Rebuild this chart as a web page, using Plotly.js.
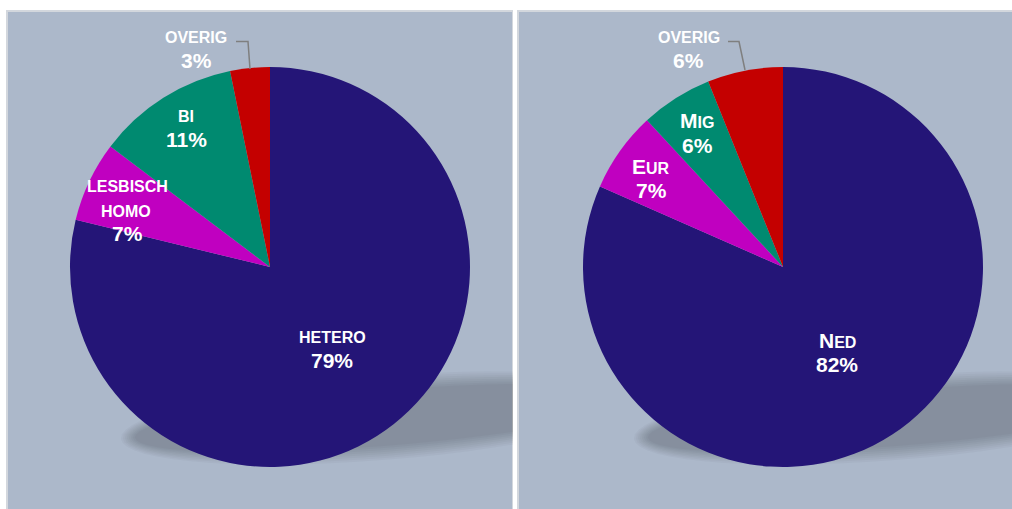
<!DOCTYPE html>
<html>
<head>
<meta charset="utf-8">
<script src="https://cdn.plot.ly/plotly-3.0.1.min.js"></script>
<style>
  html, body { margin: 0; padding: 0; background: #ffffff; }
  #chart { width: 1012px; height: 509px; }
</style>
</head>
<body>
<div id="chart"></div>
<script>
// data
var groupsLeft = ['HETERO', 'LESBISCH HOMO', 'BI', 'OVERIG'];
var sharesLeft = [78.8, 6.5, 11.5, 3.2];
var pctLeft = ['79%', '7%', '11%', '3%'];

var groupsRight = ['NED', 'EUR', 'MIG', 'OVERIG'];
var sharesRight = [81.6, 6.5, 5.8, 6.1];
var pctRight = ['82%', '7%', '6%', '6%'];

var sliceColors = ['#241577', '#c000c0', '#008a70', '#c40000'];

// pixel helpers
var W = 1012, H = 509;
function px(x) { return x / W; }
function py(y) { return 1 - y / H; }

var font = 'Liberation Sans, Arial, sans-serif';

function pieTrace(groups, shares, cx, cy, r) {
    return {
        type: 'pie',
        labels: groups,
        values: shares,
        sort: false,
        direction: 'clockwise',
        rotation: 0,
        textinfo: 'none',
        hoverinfo: 'label+percent',
        showlegend: false,
        marker: { colors: sliceColors, line: { width: 0 } },
        domain: { x: [px(cx - r), px(cx + r)], y: [py(cy + r), py(cy - r)] }
    };
}

var data = [
    pieTrace(groupsLeft, sharesLeft, 270, 267, 200),
    pieTrace(groupsRight, sharesRight, 783, 267, 200)
];

// background panels and soft shadows
var shapes = [];
function panel(x0, x1) {
    shapes.push({
        type: 'rect', xref: 'paper', yref: 'paper', layer: 'below',
        x0: px(x0), x1: px(x1), y0: py(520), y1: py(11),
        fillcolor: '#acb8ca', line: { color: '#d3d7dd', width: 2 }
    });
}
// tilted ellipse, drawn as a few stacked layers to fake a blur
function shadow(cx, cy, a, b, deg) {
    var t = deg * Math.PI / 180;
    for (var i = 0; i < 8; i++) {
        var g = 8 - i * 2;
        var p = '';
        for (var k = 0; k <= 60; k++) {
            var u = k / 60 * 2 * Math.PI;
            var ex = (a + g) * Math.cos(u), ey = (b + g) * Math.sin(u);
            var x = cx + ex * Math.cos(t) - ey * Math.sin(t);
            var y = cy + ex * Math.sin(t) + ey * Math.cos(t);
            p += (k === 0 ? 'M' : ' L') + px(x).toFixed(5) + ',' + py(y).toFixed(5);
        }
        shapes.push({
            type: 'path', xref: 'paper', yref: 'paper', layer: 'below',
            path: p + ' Z',
            fillcolor: 'rgba(0,0,0,0.027)', line: { width: 0 }
        });
    }
}
panel(7, 513);
shadow(383, 418, 255, 34, -4.5);
// white gap and right panel cover the left shadow overflow
shapes.push({
    type: 'rect', xref: 'paper', yref: 'paper', layer: 'below',
    x0: px(513), x1: px(518), y0: 0, y1: 1,
    fillcolor: '#ffffff', line: { width: 0 }
});
panel(518, 1030);
shadow(896, 418, 255, 34, -4.5);

// leader lines for the small red slices
shapes.push({
    type: 'path', xref: 'paper', yref: 'paper',
    path: 'M' + px(236) + ',' + py(41.5) + ' L' + px(248) + ',' + py(41.5) + ' L' + px(250) + ',' + py(69),
    line: { color: '#7f7f7f', width: 1.5 }
});
shapes.push({
    type: 'path', xref: 'paper', yref: 'paper',
    path: 'M' + px(728) + ',' + py(41.5) + ' L' + px(739) + ',' + py(41.5) + ' L' + px(745) + ',' + py(70),
    line: { color: '#7f7f7f', width: 1.5 }
});

var annotations = [];
function label(text, x, y, size) {
    annotations.push({
        xref: 'paper', yref: 'paper', x: px(x), y: py(y),
        xanchor: 'center', yanchor: 'middle', showarrow: false,
        text: text,
        font: { family: font, size: size, color: '#ffffff', weight: 'bold' }
    });
}
function smallCaps(word) {
    return word.charAt(0) + '<span style="font-size:16px">' + word.slice(1) + '</span>';
}

// left chart labels
label(groupsLeft[0], 332, 337, 16);
label(pctLeft[0], 332, 360, 21);
label('LESBISCH', 127, 187, 16);
label('HOMO', 126, 211, 16);
label(pctLeft[1], 127, 234, 21);
label(groupsLeft[2], 186, 117, 16);
label(pctLeft[2], 186, 139, 21);
label(groupsLeft[3], 196, 37, 16);
label(pctLeft[3], 196, 60, 21);

// right chart labels
label(smallCaps(groupsRight[0]), 837, 340, 21);
label(pctRight[0], 837, 364, 21);
label(smallCaps(groupsRight[1]), 651, 166, 21);
label(pctRight[1], 651, 190, 21);
label(smallCaps(groupsRight[2]), 697, 121, 21);
label(pctRight[2], 697, 145, 21);
label(groupsRight[3], 689, 37, 16);
label(pctRight[3], 688, 60, 21);

var layout = {
    width: W,
    height: H,
    margin: { l: 0, r: 0, t: 0, b: 0, pad: 0 },
    paper_bgcolor: '#ffffff',
    plot_bgcolor: 'rgba(0,0,0,0)',
    showlegend: false,
    shapes: shapes,
    annotations: annotations
};

Plotly.newPlot('chart', data, layout, { displayModeBar: false, staticPlot: true });
</script>
</body>
</html>
